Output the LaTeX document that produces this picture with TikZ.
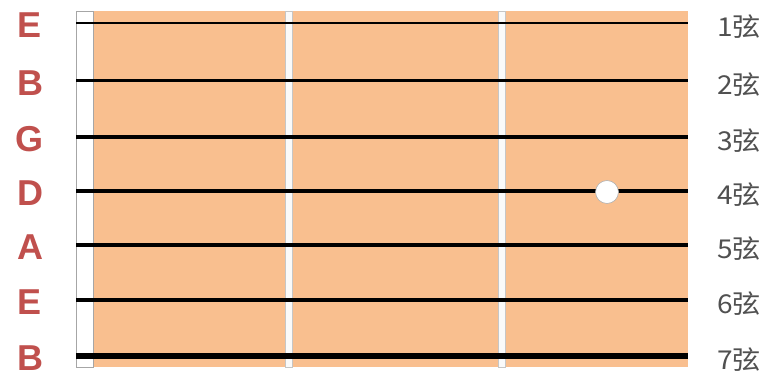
\documentclass[tikz,border=0pt]{standalone}
\usepackage{fontspec}
\setmainfont{Liberation Sans}
\newfontfamily\cjkfont{Noto Sans CJK SC}
\usetikzlibrary{positioning}
\definecolor{boardorange}{HTML}{F9BF8F}
\definecolor{notered}{HTML}{C0504D}
\definecolor{labelgray}{HTML}{505050}

\begin{document}
\begin{tikzpicture}[
  x=1pt, y=-1pt,
  notename/.style={font=\fontsize{36}{36}\selectfont\bfseries, text=notered, inner sep=0pt},
  stringname/.style={font=\cjkfont\fontsize{26}{26}\selectfont, text=labelgray, anchor=west, inner sep=0pt, xscale=1.08},
  fretbar/.style={draw=gray!45, fill=gray!4, line width=0.8pt},
  fretdot/.style={circle, draw=gray!60, fill=white, line width=0.6pt, minimum size=23pt, inner sep=0pt}
]
  \useasboundingbox (0,0) rectangle (766,374);
  % board and nut
  \fill[boardorange] (93,11) rectangle (688,367);
  \draw[gray!70, fill=white, line width=0.8pt] (76,11) rectangle (93,367);
  % frets
  \draw[fretbar] (285.5,11) rectangle (292.5,367);
  \draw[fretbar] (498,11) rectangle (505,367);
  % strings
  \foreach \y/\w/\n [count=\i] in {23/2.6/E, 81/3/B, 137/3.4/G, 191/3.8/D, 245/4.3/A, 300/4.8/E, 356/6.5/B} {
    \coordinate (s\i-nut) at (76,\y);
    \coordinate (s\i-end) at (688,\y);
    \draw[line width=\w] (s\i-nut) -- (s\i-end);
    \node[notename] (note\i) at (30,\y+2) {\n};
    \node[stringname] (str\i) at (717,\y+4) {\i 弦};
  }
  \node[fretdot] (dot) at (607,192) {};
\end{tikzpicture}
\end{document}
